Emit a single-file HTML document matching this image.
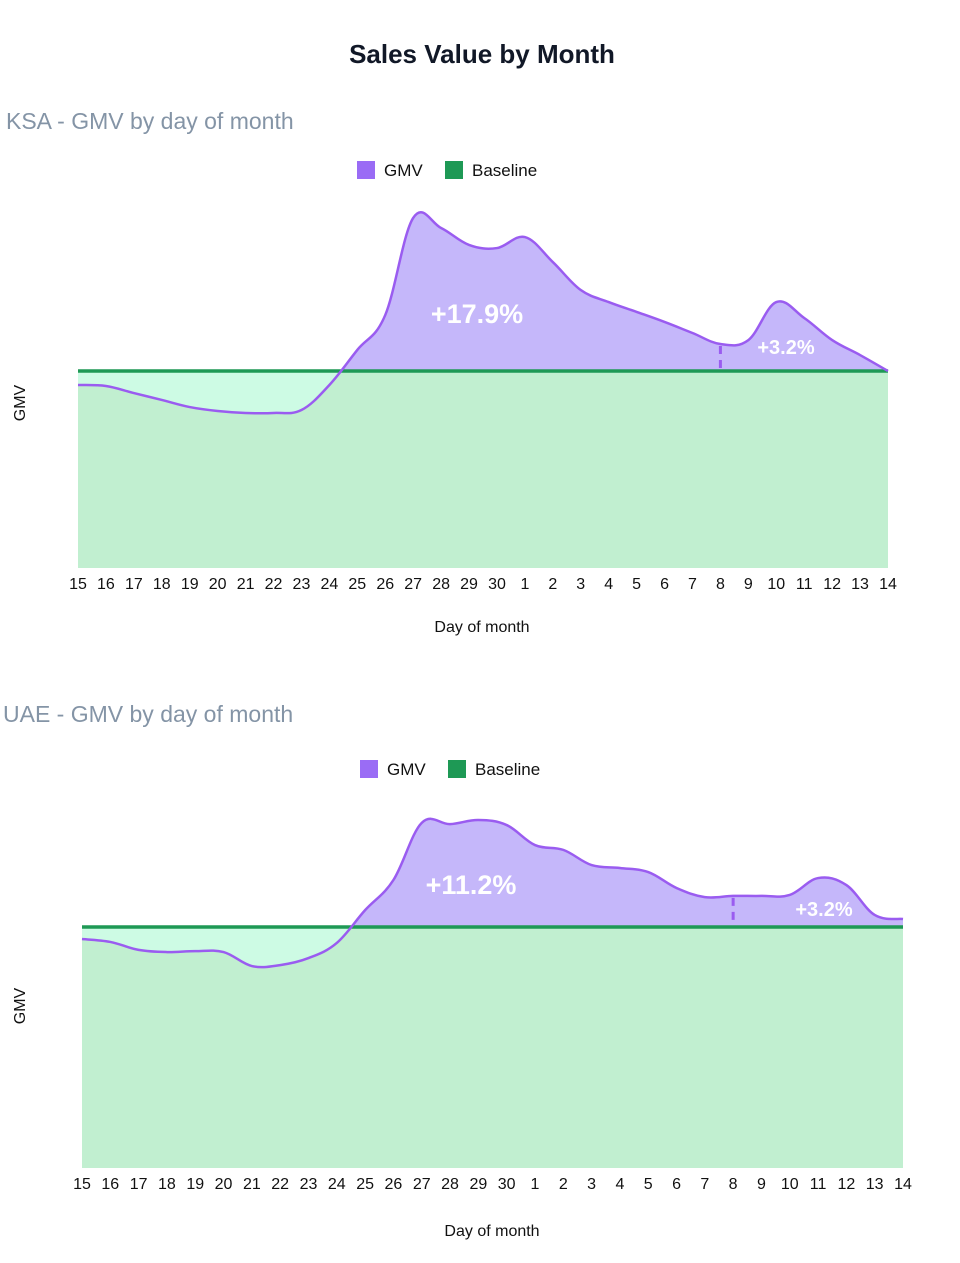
<!DOCTYPE html>
<html><head><meta charset="utf-8"><style>
body{margin:0;background:#fff;font-family:"Liberation Sans",sans-serif;}
svg text{font-family:"Liberation Sans",sans-serif;}
</style></head><body>
<svg id="s" width="960" height="1258" viewBox="0 0 960 1258" xmlns="http://www.w3.org/2000/svg">
<text x="482" y="63" text-anchor="middle" font-size="26" font-weight="bold" fill="#111827">Sales Value by Month</text>
<text x="6" y="129" font-size="23" fill="#8494a6">KSA - GMV by day of month</text>
<text x="3" y="722" font-size="23" fill="#8494a6">UAE - GMV by day of month</text>
<g id="c1"></g>
<g id="c2"></g>
</svg>
<script>
const days = ["15","16","17","18","19","20","21","22","23","24","25","26","27","28","29","30","1","2","3","4","5","6","7","8","9","10","11","12","13","14"];
const ksaGmv = [92.9,92.4,88.8,85.3,81.7,79.7,78.7,78.7,80.2,92.9,110.7,128.4,177.7,172.6,164,162.4,168,155.3,141.1,135,130,124.9,119.3,113.7,115.7,135,126.9,115.7,108.1,100];
const uaeGmv = [95,93.8,90.5,89.6,90,89.6,83.8,84.2,87.1,93.4,107,119.5,143.2,142.7,144.4,142.3,134,132,125.7,124.5,122.8,116.2,112.4,112.9,112.9,113.3,120.3,117.4,105,103.3];
const baselineValue = 100;
const ksaLabels = ["+17.9%","+3.2%"];
const uaeLabels = ["+11.2%","+3.2%"];
const markerDay = "8";

const NS="http://www.w3.org/2000/svg";
function mk(parent,tag,attrs){const e=document.createElementNS(NS,tag);for(const k in attrs)e.setAttribute(k,attrs[k]);parent.appendChild(e);return e;}
function curve(pts){let d="M"+pts[0][0]+","+pts[0][1];for(let i=0;i<pts.length-1;i++){const p0=pts[Math.max(0,i-1)],p1=pts[i],p2=pts[i+1],p3=pts[Math.min(pts.length-1,i+2)];const t=0.18;d+=" C"+(p1[0]+(p2[0]-p0[0])*t)+","+(p1[1]+(p2[1]-p0[1])*t)+" "+(p2[0]-(p3[0]-p1[0])*t)+","+(p2[1]-(p3[1]-p1[1])*t)+" "+p2[0]+","+p2[1];}return d;}
function draw(g,id,vals,labels,cfg){
  const x=i=>cfg.x0+i*(cfg.x1-cfg.x0)/(days.length-1);
  const y=v=>cfg.bottom-v*(cfg.bottom-cfg.base)/baselineValue;
  const by=y(baselineValue);
  const pts=vals.map((v,i)=>[x(i),y(v)]);
  const line=curve(pts);
  const area=line+" L"+x(days.length-1)+","+by+" L"+x(0)+","+by+" Z";
  const defs=mk(g,"defs",{});
  const ca=mk(defs,"clipPath",{id:id+"a"});mk(ca,"rect",{x:0,y:0,width:960,height:by});
  const cb=mk(defs,"clipPath",{id:id+"b"});mk(cb,"rect",{x:0,y:by,width:960,height:400});
  const gr=mk(g,"rect",{x:cfg.x0,y:by,width:cfg.x1-cfg.x0,height:cfg.bottom-by,fill:"#c1efd0"});
  
  
  const up=mk(g,"path",{d:area,fill:"#c5b7fa","clip-path":"url(#"+id+"a)"});
  
  
  const dn=mk(g,"path",{d:area,fill:"#cdfbe4","clip-path":"url(#"+id+"b)"});
  
  
  const mi=days.indexOf(markerDay);
  const dash=mk(g,"line",{x1:x(mi),x2:x(mi),y1:y(vals[mi])+2,y2:by,stroke:"#9a5cf0","stroke-width":3,"stroke-dasharray":"8,6"});
  
  
  const bl=mk(g,"line",{x1:cfg.x0,x2:cfg.x1,y1:by,y2:by,stroke:"#1e9955","stroke-width":3.5});
  
  
  const ln=mk(g,"path",{d:line,fill:"none",stroke:"#9a5cf0","stroke-width":2.5});
  
  
  const l1=mk(g,"text",{x:cfg.lab1[0],y:cfg.lab1[1],"font-size":27,"font-weight":"bold",fill:"#fff","text-anchor":"middle"});l1.textContent=labels[0];
  
  
  const l2=mk(g,"text",{x:cfg.lab2[0],y:cfg.lab2[1],"font-size":20,"font-weight":"bold",fill:"#fff","text-anchor":"middle"});l2.textContent=labels[1];
  
  
  days.forEach((d,i)=>{const t=mk(g,"text",{x:x(i),y:cfg.bottom+21,"font-size":16,fill:"#111","text-anchor":"middle"});t.textContent=d;
    
    });
  const xt=mk(g,"text",{x:cfg.xt[0],y:cfg.xt[1],"font-size":16,fill:"#111","text-anchor":"middle"});xt.textContent="Day of month";
  
  
  const yt=mk(g,"text",{x:0,y:0,"font-size":16,fill:"#111","text-anchor":"middle",transform:"translate(25,"+cfg.yt+") rotate(-90)"});yt.textContent="GMV";
  
  
  const lg=mk(g,"g",{});
  
  
  mk(lg,"rect",{x:cfg.leg[0],y:cfg.leg[1]-9,width:18,height:18,fill:"#9a6cf5"});
  const t1=mk(lg,"text",{x:cfg.leg[0]+27,y:cfg.leg[1]+6,"font-size":17,fill:"#111"});t1.textContent="GMV";
  
  
  mk(lg,"rect",{x:cfg.leg[0]+88,y:cfg.leg[1]-9,width:18,height:18,fill:"#1e9955"});
  const t2=mk(lg,"text",{x:cfg.leg[0]+115,y:cfg.leg[1]+6,"font-size":17,fill:"#111"});t2.textContent="Baseline";
  
  
}
draw(document.getElementById("c1"),"k",ksaGmv,ksaLabels,{x0:78,x1:888,base:371,bottom:568,lab1:[477,323],lab2:[786,354],xt:[482,632],yt:403,leg:[357,170]});
draw(document.getElementById("c2"),"u",uaeGmv,uaeLabels,{x0:82,x1:903,base:927,bottom:1168,lab1:[471,894],lab2:[824,916],xt:[492,1236],yt:1006,leg:[360,769]});
</script>
</body></html>
